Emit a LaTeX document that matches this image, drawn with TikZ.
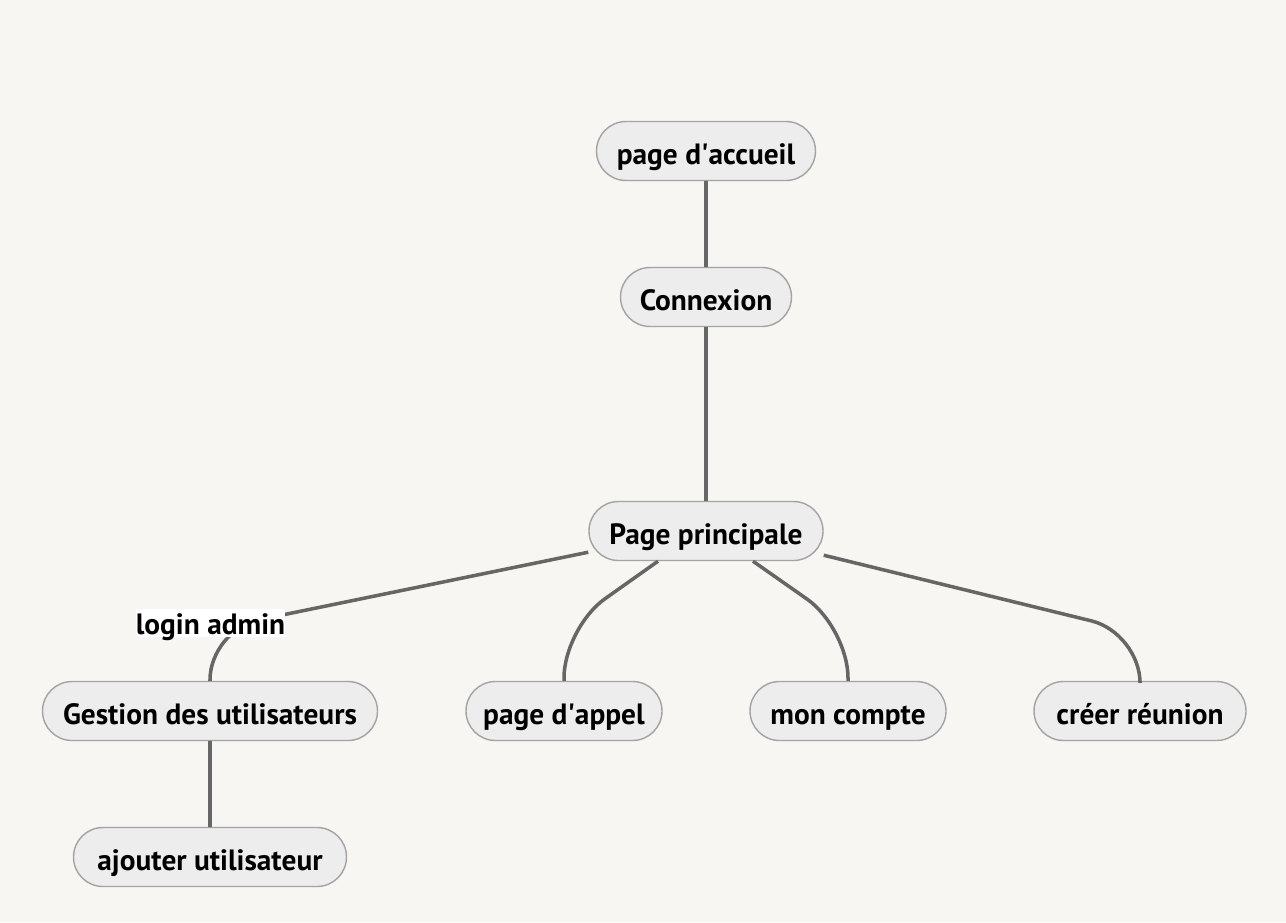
\documentclass[tikz,border=0pt]{standalone}
\usepackage{fontspec}
\setmainfont{PT Sans}
\usepackage{tikz}

\definecolor{pagebg}{HTML}{F7F6F3}
\definecolor{nodefill}{HTML}{EDEDED}
\definecolor{nodeline}{HTML}{A3A3A3}
\definecolor{edgeline}{HTML}{666666}

\begin{document}
\begin{tikzpicture}[
  page node/.style={draw=nodeline, fill=nodefill, line width=0.8pt, rounded corners=0.59cm,
    minimum height=1.18cm, inner xsep=0.2cm, text height=0.64cm, text depth=0.12cm,
    font=\fontsize{16.7}{19}\selectfont\bfseries},
  page edge/.style={draw=edgeline, line width=2pt, rounded corners=1cm},
  edge label/.style={fill=white, inner sep=0pt, minimum width=2.9cm,
    text height=0.5cm, text depth=0.06cm, font=\fontsize{16.7}{19}\selectfont\bfseries}
]
\fill[pagebg] (0,0) rectangle (25.72,-18.44);
\node[page node, minimum width=4.38cm] (accueil) at (14.12, -3.02) {page d\textquotesingle accueil};
\node[page node, minimum width=3.42cm] (connexion) at (14.12, -5.94) {Connexion};
\node[page node, minimum width=4.68cm] (princ) at (14.12, -10.62) {Page principale};
\node[page node, minimum width=6.70cm] (gest) at (4.20, -14.22) {Gestion des utilisateurs};
\node[page node, minimum width=3.92cm] (appel) at (11.28, -14.22) {page d\textquotesingle appel};
\node[page node, minimum width=3.92cm] (compte) at (16.96, -14.22) {mon compte};
\node[page node, minimum width=4.24cm] (reunion) at (22.80, -14.22) {créer réunion};
\node[page node, minimum width=5.46cm] (ajout) at (4.20, -17.14) {ajouter utilisateur};
\draw[page edge] (accueil) -- (connexion);
\draw[page edge] (connexion) -- (princ);
\draw[page edge] ([yshift=0.18cm]princ.south west) -- ([yshift=1.02cm]gest.north) -- (gest.north);
\draw[page edge] ([xshift=-0.96cm]princ.south) -- ([yshift=1.06cm]appel.north) -- (appel.north);
\draw[page edge] ([xshift=0.94cm]princ.south) -- ([yshift=1.06cm]compte.north) -- (compte.north);
\draw[page edge] ([yshift=0.12cm]princ.south east) -- ([yshift=0.96cm]reunion.north) -- (reunion.north);
\draw[page edge] (gest) -- (ajout);
\node[edge label] (login) at (4.21, -12.46) {login admin};
\end{tikzpicture}
\end{document}
